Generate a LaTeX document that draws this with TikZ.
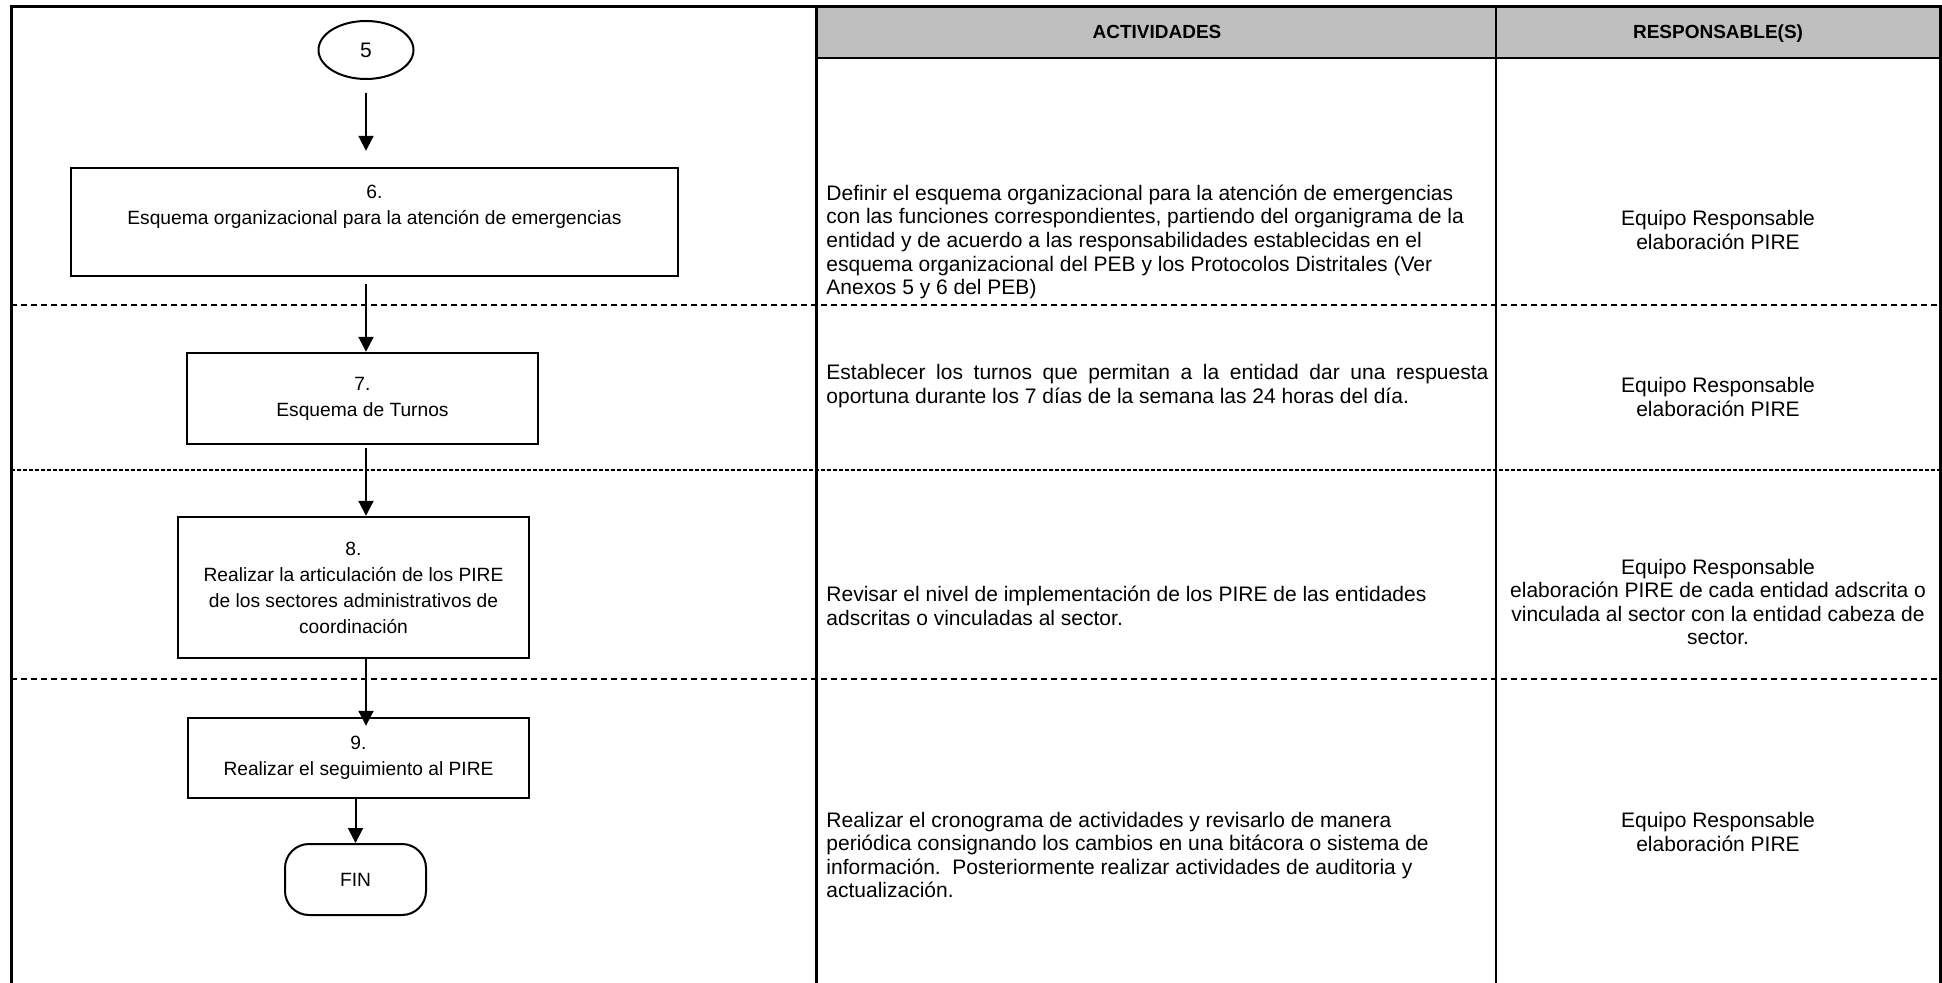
\documentclass[tikz,border=0pt]{standalone}
\usepackage{fontspec}
\setmainfont{Liberation Sans}
\usepackage{tikz}
\usetikzlibrary{arrows.meta,shapes.geometric,shapes.misc}

\begin{document}
\begin{tikzpicture}[x=0.5pt,y=-0.5pt]
		\tikzset{>={Triangle[width=7.5pt,length=7.5pt]}}
		\tikzset{
			box/.style={draw, line width=1.2pt, align=center, inner sep=0pt, font=\fontsize{9.6}{13}\selectfont},
			cell/.style={inner sep=0pt, font=\fontsize{10.5}{11.8}\selectfont},
			head/.style={inner sep=0pt, text height=7pt, text depth=2pt, font=\bfseries\fontsize{9.5}{11}\selectfont},
			sep/.style={line width=0.6pt, dash pattern=on 3pt off 2pt},
			flow/.style={->, line width=1pt}
		}
		\useasboundingbox (0,0) rectangle (1942,983);
		\fill[gray!50] (816,7) rectangle (1940,58);
		\draw[line width=1.5pt] (11,983) -- (11,7) -- (1940,7) -- (1940,983);
		\draw[line width=1.5pt] (816,7) -- (816,983);
		\draw[line width=1pt] (1496,7) -- (1496,983);
		\draw[line width=1.2pt] (816,58) -- (1940,58);
		\draw[sep] (11,305) -- (1940,305);
		\draw[sep, line width=1pt, dash pattern=on 2pt off 1pt] (11,470) -- (1940,470);
		\draw[sep] (11,679) -- (1940,679);

		\node[head] (hact) at (1157,34) {ACTIVIDADES};
		\node[head] (hresp) at (1718,34) {RESPONSABLE(S)};

		\node[draw, ellipse, line width=1pt, minimum width=47.5pt, minimum height=29pt, inner sep=0pt, font=\fontsize{10.5}{12}\selectfont] (c5) at (366,50) {5};
		\node[box, minimum width=303.5pt, minimum height=54pt] (p6) at (374.5,222) {6.\\Esquema organizacional para la atención de emergencias\\ \strut};
		\node[box, minimum width=175.5pt, minimum height=45.5pt] (p7) at (362.5,398.5) {7.\\Esquema de Turnos};
		\node[box, minimum width=175.5pt, minimum height=70.5pt] (p8) at (353.5,587.5) {8.\\Realizar la articulación de los PIRE\\de los sectores administrativos de\\coordinación};
		\node[box, minimum width=170.5pt, minimum height=40pt] (p9) at (358.5,758) {9.\\Realizar el seguimiento al PIRE};
		\node[draw, rectangle, rounded corners=12pt, line width=1pt, minimum width=70.5pt, minimum height=35.5pt, inner sep=0pt, font=\fontsize{9.6}{12}\selectfont] (fin) at (355.5,879.5) {FIN};

		\draw[flow, shorten <=6.5pt, shorten >=8pt] (c5.south) -- (c5.south |- p6.north);
		\draw[flow, shorten <=3.5pt] (p6.south -| c5) -- (p7.north -| c5);
		\draw[flow, shorten <=1.5pt] (p7.south -| c5) -- (p8.north -| c5);
		\draw[flow, shorten >=-4.5pt] (p8.south -| c5) -- (p9.north -| c5);
		\draw[flow] (p9.south -| fin) -- (fin.north);

		\node[cell, align=left, anchor=west] (a6) at (826,242) {Definir el esquema organizacional para la atención de emergencias\\con las funciones correspondientes, partiendo del organigrama de la\\entidad y de acuerdo a las responsabilidades establecidas en el\\esquema organizacional del PEB y los Protocolos Distritales (Ver\\Anexos 5 y 6 del PEB)};
		\node[cell, align=center] (r6) at (1718,230) {Equipo Responsable\\elaboración PIRE};
		\node[cell, text width=331pt, align=justify, anchor=west] (a7) at (826,386) {Establecer los turnos que permitan a la entidad dar una respuesta\linebreak oportuna durante los 7 días de la semana las 24 horas del día.};
		\node[cell, align=center] (r7) at (1718,397) {Equipo Responsable\\elaboración PIRE};
		\node[cell, align=left, anchor=west] (a8) at (826,606) {Revisar el nivel de implementación de los PIRE de las entidades\\adscritas o vinculadas al sector.};
		\node[cell, align=center] (r8) at (1718,602) {Equipo Responsable\\elaboración PIRE de cada entidad adscrita o\\vinculada al sector con la entidad cabeza de\\sector.};
		\node[cell, align=left, anchor=west] (a9) at (826,855) {Realizar el cronograma de actividades y revisarlo de manera\\periódica consignando los cambios en una bitácora o sistema de\\información.\ \ Posteriormente realizar actividades de auditoria y\\actualización.};
		\node[cell, align=center] (r9) at (1718,832) {Equipo Responsable\\elaboración PIRE};
	\end{tikzpicture}
\end{document}
